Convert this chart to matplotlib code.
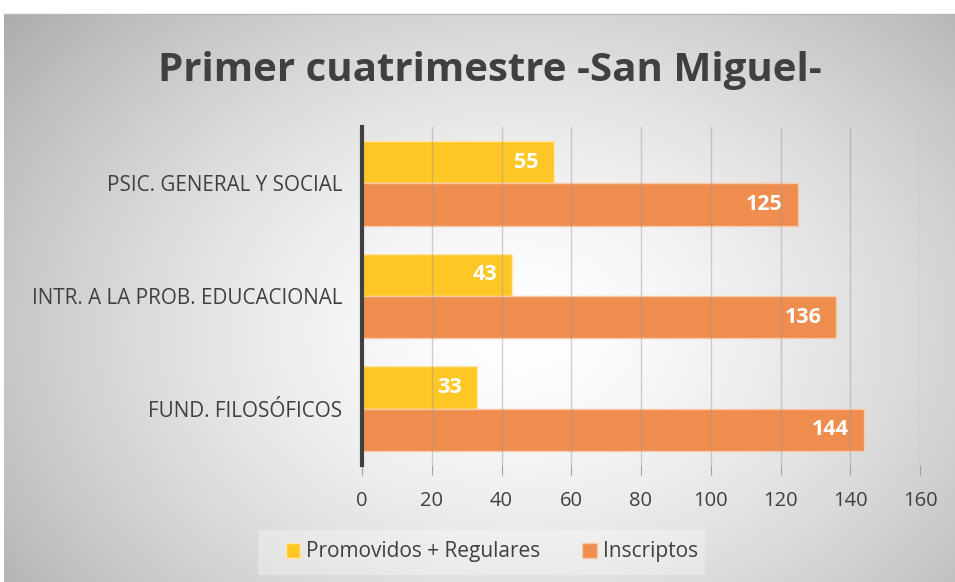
import matplotlib.pyplot as plt
import numpy as np
from matplotlib.patches import Rectangle

categorias = ["FUND. FILOSÓFICOS", "INTR. A LA PROB. EDUCACIONAL", "PSIC. GENERAL Y SOCIAL"]
promovidos = [33, 43, 55]
inscriptos = [144, 136, 125]
ticks_x = [0, 20, 40, 60, 80, 100, 120, 140, 160]

amarillo = "#FFC726"
naranja = "#EE8D4E"
gris_texto = "#404040"

plt.rcParams['font.family'] = ['Open Sans', 'DejaVu Sans']

fig = plt.figure(figsize=(9.55, 5.82), dpi=100)

# fondo con degradado radial
bg = fig.add_axes([0, 0, 1, 1], zorder=-10)
W, H = 955, 582
xx, yy = np.meshgrid(np.arange(W), np.arange(H))
r = np.sqrt(((xx - 520) / 560.0) ** 2 + ((yy - 330) / 420.0) ** 2)
val = 1.0 - 0.25 * np.clip(r, 0, 1.2) ** 1.5
img = np.dstack([val, val, val])
img[:14, :, :] = 1.0
img[:, :4, :] = 1.0
bg.imshow(img, aspect='auto', extent=[0, W, H, 0])
bg.set_xlim(0, W)
bg.set_ylim(H, 0)
bg.axis('off')
bg.plot([4, W], [14, 14], color="#b8b8b8", lw=1)

ax = fig.add_axes([362 / W, 1 - 465 / H, (920 - 362) / W, (465 - 127) / H])
ax.patch.set_alpha(0)

y = np.arange(len(categorias))
h = 0.375
b1 = ax.barh(y + h / 2, promovidos, height=h, color=amarillo, edgecolor="#ffe9b0", lw=1, zorder=2)
b2 = ax.barh(y - h / 2, inscriptos, height=h, color=naranja, edgecolor="#f7c9a8", lw=1, zorder=2)

for bars, vals in ((b1, promovidos), (b2, inscriptos)):
    for bar, v in zip(bars, vals):
        ax.text(bar.get_width() - 4.3, bar.get_y() + bar.get_height() / 2, str(v),
                ha='right', va='center', color='white', fontsize=15.5, fontweight='bold', zorder=4)

ax.set_xlim(0, 160)
ax.set_ylim(-0.5, 2.5)
ax.set_xticks(ticks_x)
ax.set_xticklabels([str(t) for t in ticks_x], fontsize=14.5, color=gris_texto)
ax.set_yticks(y)
ax.set_yticklabels(categorias, fontsize=14.9, color=gris_texto)
ax.grid(axis='x', color="#9a9a9a", lw=1, alpha=0.45, zorder=3)
ax.set_axisbelow(False)
ax.tick_params(axis='x', length=7, color="#a0a0a0", pad=12)
ax.tick_params(axis='y', length=0, pad=14)
for s in ('top', 'right', 'bottom'):
    ax.spines[s].set_visible(False)
ax.spines['left'].set_color("#404040")
ax.spines['left'].set_linewidth(3)
ax.spines['left'].set_zorder(5)

fig.text(490 / W, 1 - 70 / H, "Primer cuatrimestre -San Miguel-", ha='center', va='center',
         fontsize=29, fontweight='bold', color=gris_texto)

# caja de leyenda
bg.add_patch(Rectangle((258, 530), 447, 45, facecolor="white", alpha=0.3, edgecolor='none'))
leg = fig.legend([b1, b2], ["Promovidos + Regulares", "Inscriptos"], loc='center',
                 bbox_to_anchor=(492 / W, 1 - 552 / H), ncol=2, frameon=False,
                 fontsize=15, handlelength=0.7, handleheight=0.7, handletextpad=0.3,
                 columnspacing=2.0, labelcolor=gris_texto)

fig.savefig("out.png", dpi=100)
